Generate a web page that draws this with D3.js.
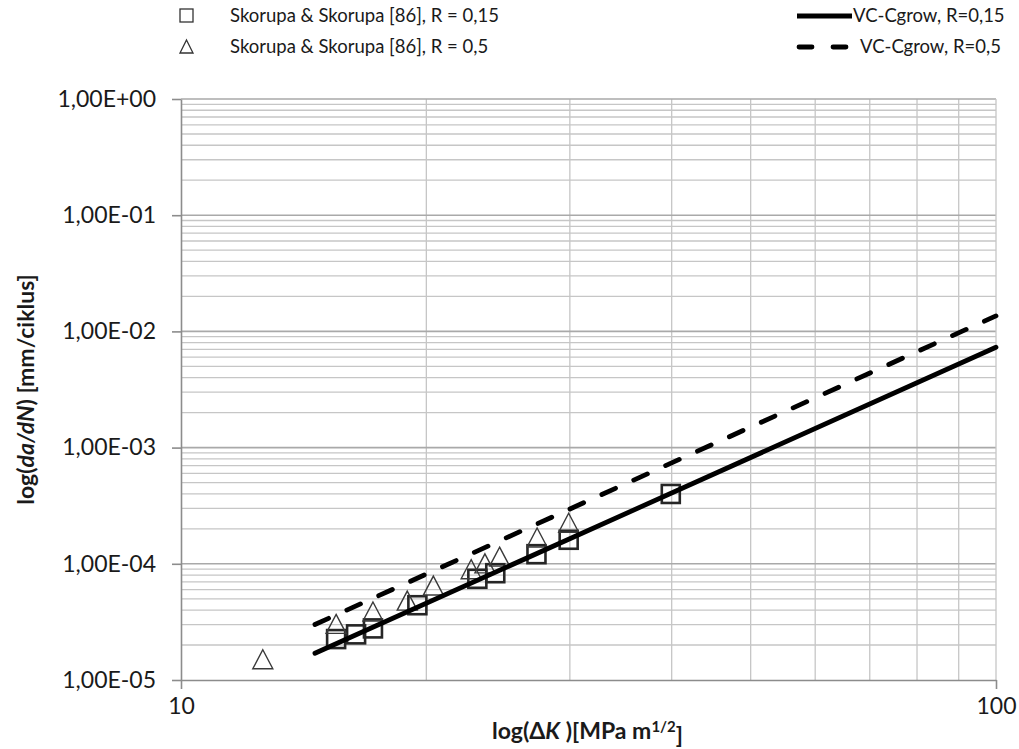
<!DOCTYPE html>
<html>
<head>
<meta charset="utf-8">
<script src="https://cdn.jsdelivr.net/npm/d3@7/dist/d3.min.js"></script>
<style>
  html, body { margin: 0; padding: 0; background: #fff; }
  svg { display: block; }
  text { font-family: Lato, "Open Sans", sans-serif; fill: #1a1a1a; }
</style>
</head>
<body>
<svg id="chart" width="1019" height="749"></svg>
<script>
// ---- data ----
const xDomain = [10, 100];
const yDomain = [1e-5, 1];
const xTickValues = [10, 100];
const xTickLabels = ["10", "100"];
const yTickValues = [1e-5, 1e-4, 1e-3, 1e-2, 1e-1, 1];
const yTickLabels = ["1,00E-05", "1,00E-04", "1,00E-03", "1,00E-02", "1,00E-01", "1,00E+00"];

// Skorupa & Skorupa [86], R = 0,15 (squares)
const sqDK   = [15.5, 16.4, 17.2, 19.5, 23.1, 24.3, 27.3, 29.9, 39.9];
const sqRate = [2.25e-5, 2.47e-5, 2.78e-5, 4.40e-5, 7.43e-5, 8.30e-5, 1.21e-4, 1.61e-4, 3.99e-4];

// Skorupa & Skorupa [86], R = 0,5 (triangles)
const trDK   = [12.6, 15.5, 17.2, 18.95, 20.4, 22.7, 23.6, 24.6, 27.35, 29.9];
const trRate = [1.48e-5, 2.98e-5, 3.81e-5, 4.73e-5, 6.37e-5, 8.81e-5, 9.89e-5, 1.13e-4, 1.65e-4, 2.21e-4];

// VC-Cgrow lines
const vc015DK   = [14.6, 100];
const vc015Rate = [1.70e-5, 7.3e-3];
const vc05DK    = [14.6, 100];
const vc05Rate  = [3.0e-5, 1.36e-2];

const legendLabels = [
  "Skorupa & Skorupa [86], R = 0,15",
  "Skorupa & Skorupa [86], R = 0,5",
  "VC-Cgrow, R=0,15",
  "VC-Cgrow, R=0,5"
];

// ---- layout ----
const svg = d3.select("#chart");
const L = 181, R = 996, T = 99, B = 680;
const x = d3.scaleLog().domain(xDomain).range([L, R]);
const y = d3.scaleLog().domain(yDomain).range([B, T]);

// minor values
const yMinor = [];
for (let e = -5; e < 0; e++) for (let k = 2; k <= 9; k++) yMinor.push(k * Math.pow(10, e));
const xMinor = [];
for (let k = 2; k <= 9; k++) xMinor.push(k * 10);

const grid = svg.append("g");
grid.selectAll("line.ymin").data(yMinor).enter().append("line")
  .attr("x1", L).attr("x2", R).attr("y1", d => y(d)).attr("y2", d => y(d))
  .attr("stroke", "#c6c6c6").attr("stroke-width", 1.3);
grid.selectAll("line.xmin").data(xMinor).enter().append("line")
  .attr("x1", d => x(d)).attr("x2", d => x(d)).attr("y1", T).attr("y2", B)
  .attr("stroke", "#c6c6c6").attr("stroke-width", 1.3);
grid.selectAll("line.ymaj").data(yTickValues.slice(1)).enter().append("line")
  .attr("x1", L).attr("x2", R).attr("y1", d => y(d)).attr("y2", d => y(d))
  .attr("stroke", "#a9a9a9").attr("stroke-width", 1.6);
grid.append("line").attr("x1", R).attr("x2", R).attr("y1", T).attr("y2", B)
  .attr("stroke", "#c6c6c6").attr("stroke-width", 1.3);

// axes
const yAxis = d3.axisLeft(y).tickValues(yTickValues)
  .tickFormat((d, i) => yTickLabels[i]).tickSizeInner(9).tickSizeOuter(0).tickPadding(16);
const gy = svg.append("g").attr("transform", `translate(${L},0)`).call(yAxis);
const xAxis = d3.axisBottom(x).tickValues(xTickValues)
  .tickFormat((d, i) => xTickLabels[i]).tickSizeInner(9).tickSizeOuter(0).tickPadding(9);
const gx = svg.append("g").attr("transform", `translate(0,${B})`).call(xAxis);
[gx, gy].forEach(g => {
  g.select(".domain").attr("stroke", "#8c8c8c").attr("stroke-width", 1.6);
  g.selectAll(".tick line").attr("stroke", "#8c8c8c").attr("stroke-width", 1.6);
  g.selectAll(".tick text").style("font-family", "Lato, sans-serif")
    .style("font-size", "23px").attr("fill", "#1a1a1a");
});

// markers
const sqData = sqDK.map((d, i) => ({ x: d, y: sqRate[i] }));
const trData = trDK.map((d, i) => ({ x: d, y: trRate[i] }));
const sq = 18;
svg.append("g").selectAll("rect").data(sqData).enter().append("rect")
  .attr("x", d => x(d.x) - sq / 2).attr("y", d => y(d.y) - sq / 2)
  .attr("width", sq).attr("height", sq)
  .attr("fill", "none").attr("stroke", "#262626").attr("stroke-width", 2.6);
const tw = 20, th = 17;
svg.append("g").selectAll("path").data(trData).enter().append("path")
  .attr("d", d => {
    const cx = x(d.x), cy = y(d.y);
    return `M${cx},${cy - th / 2 - 2}L${cx + tw / 2},${cy + th / 2}L${cx - tw / 2},${cy + th / 2}Z`;
  })
  .attr("fill", "none").attr("stroke", "#3a3a3a").attr("stroke-width", 1.4);

// lines
const line = d3.line().x(d => x(d.x)).y(d => y(d.y));
const l1 = vc015DK.map((d, i) => ({ x: d, y: vc015Rate[i] }));
const l2 = vc05DK.map((d, i) => ({ x: d, y: vc05Rate[i] }));
svg.append("path").datum(l1).attr("d", line)
  .attr("fill", "none").attr("stroke", "#000").attr("stroke-width", 4.8).attr("stroke-linecap", "round");
svg.append("path").datum(l2).attr("d", line)
  .attr("fill", "none").attr("stroke", "#000").attr("stroke-width", 4.8)
  .attr("stroke-linecap", "round").attr("stroke-dasharray", "15,20");

// legend
const lg = svg.append("g");
const row1 = 16, row2 = 47;
const lfs = "18.5px";
lg.append("rect").attr("x", 180).attr("y", row1 - 7).attr("width", 13).attr("height", 13)
  .attr("fill", "none").attr("stroke", "#333").attr("stroke-width", 1.3);
lg.append("path").attr("d", `M186.5,${row2 - 7}L193,${row2 + 6}L180,${row2 + 6}Z`)
  .attr("fill", "none").attr("stroke", "#333").attr("stroke-width", 1.3);
lg.append("text").attr("x", 230).attr("y", row1).attr("dy", "0.35em")
  .style("font-size", lfs).text(legendLabels[0]);
lg.append("text").attr("x", 230).attr("y", row2).attr("dy", "0.35em")
  .style("font-size", lfs).text(legendLabels[1]);
lg.append("line").attr("x1", 797).attr("x2", 852).attr("y1", row1).attr("y2", row1)
  .attr("stroke", "#000").attr("stroke-width", 4.8);
lg.append("line").attr("x1", 799).attr("x2", 848).attr("y1", row2).attr("y2", row2)
  .attr("stroke", "#000").attr("stroke-width", 4.8).attr("stroke-linecap", "round")
  .attr("stroke-dasharray", "13,21");
lg.append("text").attr("x", 853).attr("y", row1).attr("dy", "0.35em")
  .style("font-size", lfs).text(legendLabels[2]);
lg.append("text").attr("x", 860).attr("y", row2).attr("dy", "0.35em")
  .style("font-size", lfs).text(legendLabels[3]);

// axis titles
const yt = svg.append("text")
  .attr("transform", `translate(34,${(T + B) / 2}) rotate(-90)`)
  .attr("text-anchor", "middle")
  .style("font-size", "23px").style("font-weight", "bold");
yt.append("tspan").text("log(");
yt.append("tspan").style("font-style", "italic").text("da/dN");
yt.append("tspan").text(") [mm/ciklus]");

const xt = svg.append("text")
  .attr("x", (L + R) / 2 - 1).attr("y", 739)
  .attr("text-anchor", "middle")
  .style("font-size", "23px").style("font-weight", "bold");
xt.append("tspan").text("log(\u0394");
xt.append("tspan").style("font-style", "italic").text("K");
xt.append("tspan").text(" )[MPa m");
xt.append("tspan").attr("dy", "-0.45em").style("font-size", "15px").text("1/2");
xt.append("tspan").attr("dy", "0.45em").text("]");
</script>
</body>
</html>
